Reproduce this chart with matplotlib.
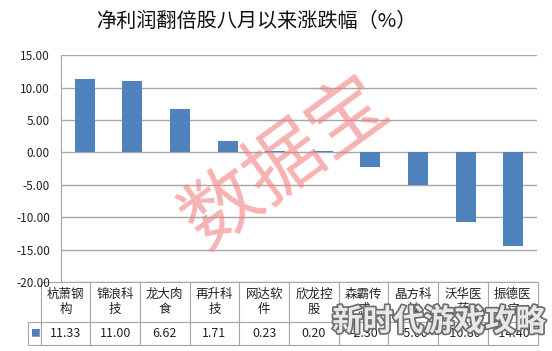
import matplotlib.pyplot as plt
import matplotlib.patheffects as pe

plt.rcParams['font.family'] = ['Noto Sans CJK SC', 'DejaVu Sans']

title = "净利润翻倍股八月以来涨跌幅（%）"
stocks = ["杭萧钢\n构", "锦浪科\n技", "龙大肉\n食", "再升科\n技", "网达软\n件",
          "欣龙控\n股", "森霸传\n感", "晶方科\n技", "沃华医\n药", "振德医\n疗"]
change = [11.33, 11.00, 6.62, 1.71, 0.23, 0.20, -2.30, -5.00, -10.80, -14.40]
yticks = [15, 10, 5, 0, -5, -10, -15, -20]

bar_color = "#4F81BD"

fig = plt.figure(figsize=(5.52, 3.51), dpi=100)
ax = fig.add_axes([0.1105, 0.1966, 0.8625, 0.6464])

x = list(range(len(change)))
ax.bar(x, change, width=0.42, color=bar_color, zorder=3)
ax.set_xlim(-0.5, len(change) - 0.5)
ax.set_ylim(-20, 15)
ax.set_yticks(yticks)
ax.set_yticklabels(["%.2f" % v for v in yticks], fontsize=8.5, color="#222222")
ax.set_xticks([])
ax.grid(axis="y", color="#A6A6A6", lw=1, zorder=0)
for s in ["top", "right", "bottom"]:
    ax.spines[s].set_visible(False)
ax.spines["left"].set_color("#A6A6A6")
ax.tick_params(axis="y", length=0, pad=8)

# data table under the chart
cells = [["%.2f" % v for v in change]]
lw = 0.044
tab = ax.table(cellText=cells, rowLabels=["■"], colLabels=stocks,
               cellLoc="center", rowLoc="center",
               bbox=[-lw, -0.2775, 1 + lw, 0.2775])
tab.auto_set_font_size(False)
for (r, c), cell in tab.get_celld().items():
    cell.set_edgecolor("#A6A6A6")
    cell.set_linewidth(0.8)
    cell.get_text().set_fontsize(9)
    cell.get_text().set_color("#222222")
    if r == 0:
        cell.set_height(40)
    else:
        cell.set_height(23)
    if c == -1:
        cell.set_width(lw)
        cell.get_text().set_color(bar_color)
        cell.get_text().set_fontsize(7)
    else:
        cell.set_width(1.0 / len(change))

fig.text(0.465, 0.94, title, fontsize=14.5, ha="center", va="center", color="#111111")

# watermarks
fig.text(0.52, 0.535, "数据宝", fontsize=56, rotation=36, color="#F08080",
         alpha=0.6, ha="center", va="center")
fig.text(0.795, 0.083, "新时代游戏攻略", fontsize=22, fontweight="bold",
         color="#E8E8E8", ha="center", va="center",
         path_effects=[pe.withStroke(linewidth=2.5, foreground="#6E6E6E")])

plt.savefig("out.png", dpi=100)
